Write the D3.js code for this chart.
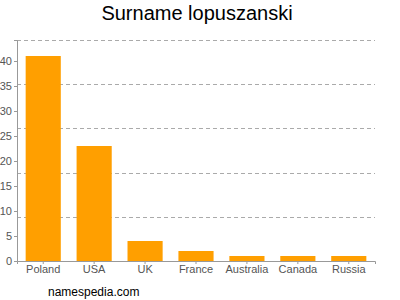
<!DOCTYPE html>
<html>
<head>
<meta charset="utf-8">
<script src="https://cdn.jsdelivr.net/npm/d3@7"></script>
<style>
  body { margin: 0; background: #fff; }
  svg { font-family: "Liberation Sans", Arial, sans-serif; }
</style>
</head>
<body>
<svg id="chart" width="400" height="300"></svg>
<script>
const countries = ['Poland', 'USA', 'UK', 'France', 'Australia', 'Canada', 'Russia'];
const counts = [41, 23, 4, 2, 1, 1, 1];
const yTicks = [0, 5, 10, 15, 20, 25, 30, 35, 40];
const yMax = 44.2;

const margin = {top: 40, right: 25, bottom: 39, left: 17},
  width = 400 - margin.left - margin.right,
  height = 300 - margin.top - margin.bottom;

const svg = d3.select('#chart');

svg.append('text')
  .attr('x', 197)
  .attr('y', 20)
  .attr('text-anchor', 'middle')
  .style('font-size', '20px')
  .style('fill', '#000')
  .text('Surname lopuszanski');

const chart = svg.append('g')
  .attr('transform', `translate(${margin.left}, ${margin.top})`);

const x = d3.scaleBand()
  .domain(countries)
  .range([0, width])
  .paddingInner(0.31)
  .paddingOuter(0.17);

const y = d3.scaleLinear()
  .domain([0, yMax])
  .range([height, 0]);

// dashed grid lines, evenly splitting the value range
const grid = [1, 2, 3, 4, 5].map(i => yMax * i / 5);
chart.selectAll('.grid')
  .data(grid)
  .enter().append('line')
  .attr('class', 'grid')
  .attr('x1', 0)
  .attr('x2', width)
  .attr('y1', d => Math.round(y(d)) + 0.5)
  .attr('y2', d => Math.round(y(d)) + 0.5)
  .style('stroke', '#aaa')
  .style('stroke-dasharray', '4,3');

chart.selectAll('.bar')
  .data(counts)
  .enter().append('rect')
  .attr('class', 'bar')
  .attr('x', (d, i) => x(countries[i]))
  .attr('y', d => y(d))
  .attr('width', x.bandwidth())
  .attr('height', d => height - y(d))
  .style('fill', '#ff9f00');

const yAxis = chart.append('g')
  .call(d3.axisLeft(y).tickValues(yTicks).tickSize(3).tickPadding(2));

const xAxis = chart.append('g')
  .attr('transform', `translate(0,${height})`)
  .call(d3.axisBottom(x).tickSize(3).tickPadding(1));

[xAxis, yAxis].forEach(a => {
  a.select('.domain').style('stroke', '#999');
  a.selectAll('.tick line').style('stroke', '#999');
  a.selectAll('.tick text')
    .style('fill', '#555')
    .style('font-size', '11px')
    .style('font-family', '"Liberation Sans", Arial, sans-serif');
});

svg.append('text')
  .attr('x', 48)
  .attr('y', 296)
  .style('font-size', '12px')
  .style('fill', '#000')
  .text('namespedia.com');
</script>
</body>
</html>
